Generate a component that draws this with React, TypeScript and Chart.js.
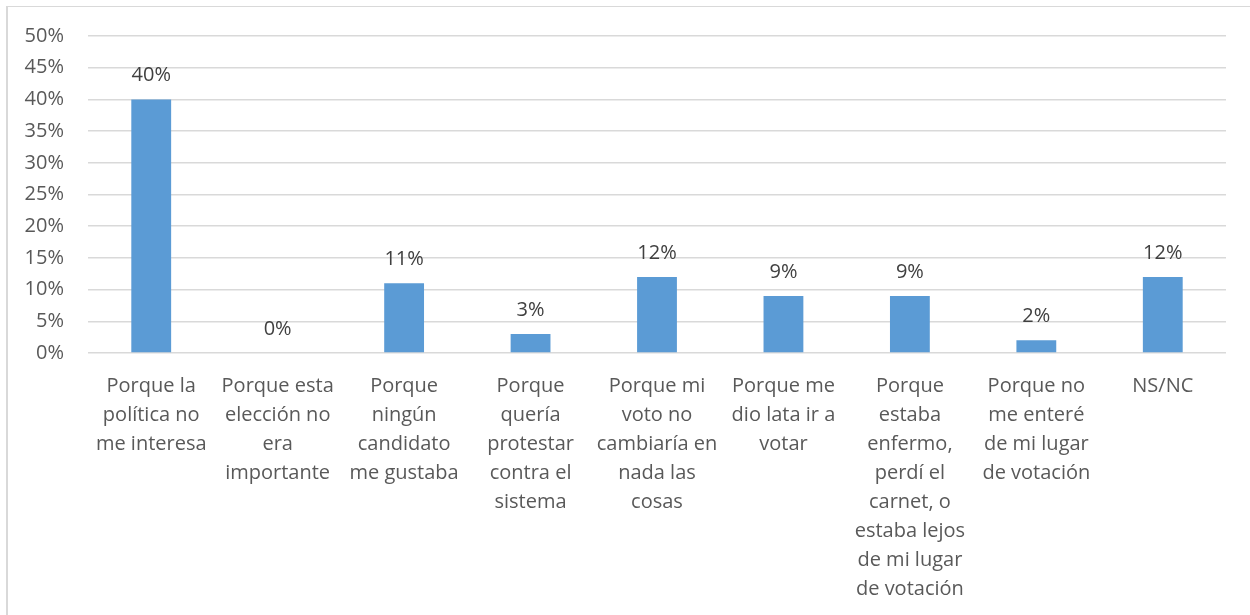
import React, { useEffect, useRef } from "react";
import { Chart, registerables } from "chart.js";

Chart.register(...registerables);

const categories: string[][] = [
  ["Porque la", "política no", "me interesa"],
  ["Porque esta", "elección no", "era", "importante"],
  ["Porque", "ningún", "candidato", "me gustaba"],
  ["Porque", "quería", "protestar", "contra el", "sistema"],
  ["Porque mi", "voto no", "cambiaría en", "nada las", "cosas"],
  ["Porque me", "dio lata ir a", "votar"],
  ["Porque", "estaba", "enfermo,", "perdí el", "carnet, o", "estaba lejos", "de mi lugar", "de votación"],
  ["Porque no", "me enteré", "de mi lugar", "de votación"],
  ["NS/NC"],
];

const values: number[] = [40, 0, 11, 3, 12, 9, 9, 2, 12];

const yMin = 0;
const yMax = 50;
const yStep = 5;

const FONT = "'Open Sans', sans-serif";

const dataLabelPlugin = {
  id: "dataLabels",
  afterDatasetsDraw(chart: any) {
    const ctx = chart.ctx;
    const meta = chart.getDatasetMeta(0);
    ctx.save();
    ctx.font = `20px ${FONT}`;
    ctx.fillStyle = "#404040";
    ctx.textAlign = "center";
    ctx.textBaseline = "middle";
    meta.data.forEach((bar: any, i: number) => {
      ctx.fillText(`${values[i]}%`, bar.x, bar.y - 24);
    });
    ctx.restore();
  },
};

export default function App() {
  const canvasRef = useRef<HTMLCanvasElement | null>(null);

  useEffect(() => {
    if (!canvasRef.current) return;
    const chart = new Chart(canvasRef.current, {
      type: "bar",
      data: {
        labels: categories,
        datasets: [
          {
            data: values,
            backgroundColor: "#5B9BD5",
            borderWidth: 0,
            barPercentage: 0.315,
            categoryPercentage: 1,
          },
        ],
      },
      options: {
        animation: false,
        responsive: false,
        maintainAspectRatio: false,
        layout: { padding: { left: 0, right: 24, top: 35, bottom: 0 } },
        plugins: {
          legend: { display: false },
          tooltip: { enabled: false },
          title: { display: false },
        },
        scales: {
          x: {
            grid: { display: false, drawTicks: false },
            border: { display: false },
            ticks: {
              autoSkip: false,
              maxRotation: 0,
              minRotation: 0,
              padding: 19,
              color: "#595959",
              font: { family: FONT, size: 20, lineHeight: 1.45 },
            },
            afterFit(scale: any) {
              scale.height = 615 - 353;
            },
          },
          y: {
            min: yMin,
            max: yMax,
            grid: { color: "#D9D9D9", lineWidth: 1.5, drawTicks: false },
            border: { display: false },
            ticks: {
              stepSize: yStep,
              padding: 24,
              color: "#595959",
              font: { family: FONT, size: 20 },
              callback: (v: any) => `${v}%`,
            },
            afterFit(scale: any) {
              scale.width = 88;
            },
          },
        },
      },
      plugins: [dataLabelPlugin],
    });
    return () => chart.destroy();
  }, []);

  return (
    <div style={{ position: "fixed", left: 0, top: 0, width: 1250, height: 615, background: "#fff", overflow: "hidden" }}>
      <div
        style={{
          position: "absolute",
          left: 6,
          top: 6,
          width: 1300,
          height: 700,
          borderLeft: "2px solid #D9D9D9",
          borderTop: "1.5px solid #D9D9D9",
        }}
      />
      <canvas ref={canvasRef} width={1250} height={615} style={{ position: "absolute", left: 0, top: 0 }} />
    </div>
  );
}
